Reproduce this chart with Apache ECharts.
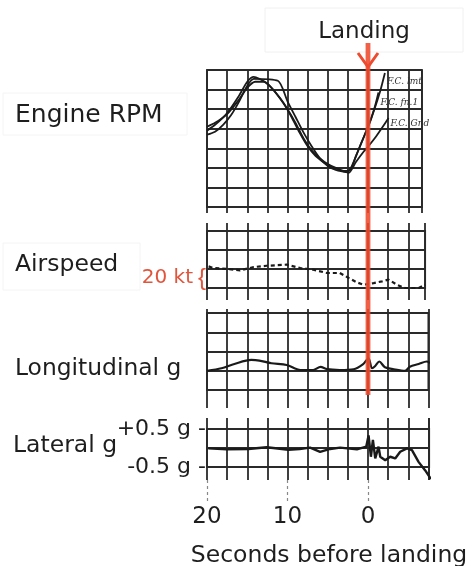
<!DOCTYPE html>
<html><head><meta charset="utf-8">
<script src="https://cdn.jsdelivr.net/npm/echarts@6/dist/echarts.min.js"></script>
<style>html,body{margin:0;padding:0;background:#fff}#c{width:473px;height:566px}</style>
</head><body><div id="c"></div>
<script>
// ---- data (time in seconds relative to landing; negative = before landing) ----
const tickValues = [-20, -10, 0];
const tickLabels = ['20', '10', '0'];

const rpmT1 = [-20,-19,-17.5,-16,-15,-14.2,-13.5,-12.5,-11,-10,-9,-8,-7,-6,-5,-4,-3,-2.2,-1.5,-0.8,0,0.8,1.5,2.1];
const rpmV1 = [3.9,4.2,4.8,5.7,6.4,6.65,6.55,6.3,5.6,5.0,4.3,3.5,2.9,2.5,2.2,2.0,1.85,1.9,2.6,3.3,4.1,5.0,5.9,6.85];
const rpmT2 = [-20,-19,-18,-17,-16,-15,-14.2,-11.2,-10,-9,-8,-7,-6,-5,-4,-3,-2.4,-1.5,-0.5,0,1,2,2.55];
const rpmV2 = [3.7,3.85,4.2,4.7,5.4,6.2,6.55,6.45,5.4,4.6,3.8,3.1,2.5,2.1,1.9,1.8,1.75,2.3,2.85,3.08,3.6,4.2,4.55];
const rpmT3 = [-20,-19,-17.5,-16,-15,-14,-13,-12,-10.5,-9.5,-8.5,-7.5,-6.5,-5,-3.5,-2.6,-2,-1.2,-0.5,0.3,0.9,1.3];
const rpmV3 = [4.1,4.3,4.75,5.5,6.1,6.4,6.4,6.1,5.3,4.6,3.8,3.1,2.6,2.15,1.9,1.78,2.1,2.9,3.6,4.4,5.2,5.85];
const rpmNotes = ['F.C. lmt', 'F.C. fn.1', 'F.C. Gnd'];

const asT = [-19.8,-19.2,-17.5,-15.9,-14.2,-12.6,-10.1,-8.4,-6.8,-5.1,-3.5,-2.4,-1.4,-0.55,0.7,1.75,2.55,3.6,4.6,6.3,7.1];
const asV = [1.14,1.05,1.0,0.93,1.1,1.17,1.23,1.05,0.96,0.79,0.79,0.53,0.3,0.17,0.26,0.35,0.44,0.17,0.0,0.0,0.17];

const lgT = [-20,-18.2,-16.6,-14.5,-13.5,-12,-10.1,-8.4,-6.8,-5.9,-5.1,-3.5,-1.8,-0.6,0.06,0.5,0.9,1.4,2.1,3.2,4.6,5.2,6.3,7.3,7.7];
const lgV = [1.0,1.13,1.35,1.56,1.53,1.39,1.3,1.04,1.04,1.2,1.08,1.04,1.08,1.35,1.65,1.13,1.25,1.48,1.18,1.08,1.0,1.21,1.35,1.48,1.39];

const ltT = [-19.84,-17.55,-14.86,-12.58,-9.89,-8.5,-7.19,-5.95,-4.7,-3.46,-1.38,-0.22,0.07,0.36,0.61,0.9,1.31,1.52,2.14,2.76,3.38,4.0,4.84,5.46,6.28,7.11,7.82];
const ltV = [0.98,0.93,0.95,1.04,0.91,0.95,1.02,0.8,0.95,1.02,0.93,1.07,1.66,0.54,1.43,0.45,1.07,0.54,0.36,0.54,0.45,0.8,0.98,0.89,0.27,-0.18,-0.63];

const latLabels = ['-0.5 g -', '', '+0.5 g -'];
const landingTime = 0;

// ---- chart ----
const zip = (a, b) => a.map((v, i) => [v, b[i]]);
const FONT = 'DejaVu Sans';
const GRID_C = '#2a2a2a';
const GW = 1.8;
const PX_PER_S = 8.05;
const panels = [
  { top: 70,  height: 137, ymax: 7, xmax: 6.7, bot: 6,  topTick: 0 },
  { top: 231, height: 57,  ymax: 3, xmax: 7.1, bot: 12, topTick: 8 },
  { top: 313, height: 77,  ymax: 4, xmax: 7.5, bot: 18, topTick: 4 },
  { top: 429, height: 38,  ymax: 2, xmax: 7.6, bot: 13, topTick: 11 }
];

const grids = panels.map(p => ({
  left: 207, top: p.top, width: (p.xmax + 20) * PX_PER_S, height: p.height,
  show: true, borderColor: GRID_C, borderWidth: GW, containLabel: false
}));

const baseX = (gi, p, pos, tickLen, split) => ({
  type: 'value', gridIndex: gi, position: pos, min: -20, max: p.xmax, interval: 2.5,
  axisLine: { show: false, onZero: false },
  axisTick: { show: tickLen > 0, length: tickLen, inside: false, lineStyle: { color: GRID_C, width: GW } },
  axisLabel: { show: false },
  splitLine: { show: split, lineStyle: { color: GRID_C, width: GW } }
});

const xAxes = [];
panels.forEach((p, gi) => {
  xAxes.push(baseX(gi, p, 'bottom', p.bot, true));
  xAxes.push(baseX(gi, p, 'top', p.topTick, false));
});
// label axis under the lateral panel
xAxes.push({
  type: 'value', gridIndex: 3, position: 'bottom', offset: 13, min: -20, max: panels[3].xmax,
  axisLine: { show: false, onZero: false },
  axisTick: { show: true, length: 22, customValues: tickValues,
    lineStyle: { color: '#888', width: 1.2, type: [3, 3] } },
  axisLabel: { show: true, customValues: tickValues, margin: 26, fontFamily: FONT, fontSize: 23, color: '#1e1e1e',
    formatter: v => { const i = tickValues.indexOf(v); return i >= 0 ? tickLabels[i] : ''; } },
  splitLine: { show: false }
});

const yAxes = panels.map((p, gi) => ({
  type: 'value', gridIndex: gi, min: 0, max: p.ymax, interval: 1,
  axisLine: { show: false, onZero: false },
  axisTick: { show: false },
  axisLabel: gi === 3 ? { show: true, margin: 1, fontFamily: FONT, fontSize: 22, color: '#1e1e1e',
      formatter: v => latLabels[v] || '' } : { show: false },
  splitLine: { show: true, lineStyle: { color: GRID_C, width: GW } }
}));

const TRACE = '#1a1a1a';
const rpmSeries = (t, v, note, off) => ({
  type: 'line', xAxisIndex: 0, yAxisIndex: 0, data: zip(t, v), symbol: 'none', smooth: 0.25,
  lineStyle: { color: TRACE, width: 1.8 }, clip: false, z: 3,
  endLabel: { show: true, formatter: note, distance: 2, offset: off, fontFamily: 'DejaVu Serif',
    fontStyle: 'italic', fontSize: 9, color: '#333' }
});

const series = [
  rpmSeries(rpmT1, rpmV1, rpmNotes[0], [0, 9]),
  rpmSeries(rpmT3, rpmV3, rpmNotes[1], [0, 10]),
  rpmSeries(rpmT2, rpmV2, rpmNotes[2], [0, 6]),
  { type: 'line', xAxisIndex: 2, yAxisIndex: 1, data: zip(asT, asV), symbol: 'none', clip: false,
    lineStyle: { color: TRACE, width: 2.2, type: [4, 3] } },
  { type: 'line', xAxisIndex: 4, yAxisIndex: 2, data: zip(lgT, lgV), symbol: 'none', clip: false, smooth: 0.3,
    lineStyle: { color: TRACE, width: 2.2 } },
  { type: 'line', xAxisIndex: 6, yAxisIndex: 3, data: zip(ltT, ltV), symbol: 'none', clip: false,
    lineStyle: { color: TRACE, width: 2.4 } }
];

const chart = echarts.init(document.getElementById('c'), null, { renderer: 'canvas' });
chart.setOption({
  animation: false, backgroundColor: '#fff',
  grid: grids, xAxis: xAxes, yAxis: yAxes, series: series
});

const x0 = chart.convertToPixel({ xAxisIndex: 0 }, landingTime);
const RED = '#ee4a2e';
const txt = (text, x, y, size, opts) => Object.assign({
  type: 'text', x: x, y: y, z: 20,
  style: Object.assign({ text: text, fontFamily: FONT, fontSize: size, fill: '#1e1e1e', align: 'left', verticalAlign: 'middle' }, opts || {})
});
chart.setOption({
  graphic: [
    { type: 'rect', shape: { x: 265, y: 8, width: 198, height: 44 }, style: { fill: 'none', stroke: '#f0f0f0', lineWidth: 1 }, z: 1 },
    { type: 'rect', shape: { x: 3, y: 93, width: 184, height: 42 }, style: { fill: 'none', stroke: '#f4f4f4', lineWidth: 1 }, z: 1 },
    { type: 'rect', shape: { x: 3, y: 243, width: 137, height: 47 }, style: { fill: 'none', stroke: '#f4f4f4', lineWidth: 1 }, z: 1 },
    txt('Landing', x0 - 4, 32, 23, { align: 'center' }),
    txt('Engine RPM', 15, 115, 25),
    txt('Airspeed', 15, 265, 23.5),
    txt('Longitudinal g', 15, 369, 23.4),
    txt('Lateral g', 13, 446, 23.5),
    txt('20 kt', 193, 278, 20, { align: 'right', fill: '#e0553c' }),
    txt('{', 198, 278, 24, { fill: '#e0553c', fontFamily: 'Liberation Sans' }),
    txt('Seconds before landing', 329, 556, 23.5, { align: 'center' }),
    { type: 'line', z: 30, shape: { x1: x0, y1: 43, x2: x0, y2: 395 },
      style: { stroke: RED, lineWidth: 4.8, opacity: 0.88 } },
    { type: 'polyline', z: 30, shape: { points: [[x0 - 10, 53], [x0, 67], [x0 + 10, 53]] },
      style: { stroke: RED, lineWidth: 3, fill: 'none' } }
  ]
});
</script>
</body></html>
